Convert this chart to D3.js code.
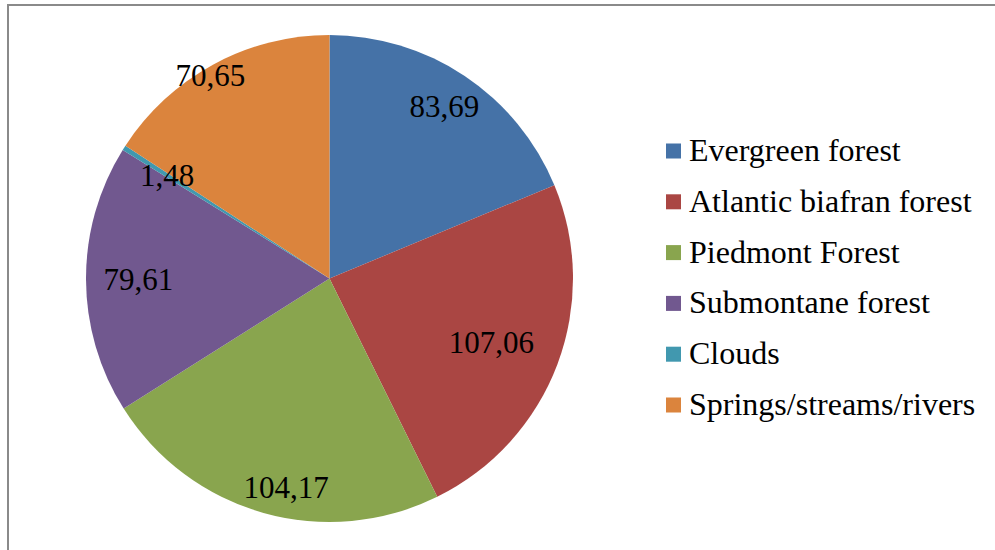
<!DOCTYPE html>
<html>
<head>
<meta charset="utf-8">
<script src="https://cdn.jsdelivr.net/npm/d3@7"></script>
<style>
  html, body { margin: 0; padding: 0; background: #fff; }
  svg { display: block; }
</style>
</head>
<body>
<svg id="chart" width="995" height="550"></svg>
<script>
// Land cover classes and their areas
const categories = ["Evergreen forest", "Atlantic biafran forest", "Piedmont Forest",
                    "Submontane forest", "Clouds", "Springs/streams/rivers"];
const values = [83.69, 107.06, 104.17, 79.61, 1.48, 70.65];
const valueLabels = ["83,69", "107,06", "104,17", "79,61", "1,48", "70,65"];
const colors = ["#4572A7", "#AA4643", "#89A54E", "#71588F", "#4198AF", "#DB843D"];

// Layout
const W = 995, H = 550;
const cx = 329.5, cy = 278.5, R = 243.5;
const FONT = "'Liberation Serif', 'Times New Roman', 'DejaVu Serif', serif";
// placement of each value label: fraction of the radius, and a small turn (degrees) off the mid-angle
const labelRadius = [0.85, 0.715, 0.875, 0.785, 0.79, 0.965];
const labelTurn = [0, 1, -4, 0, 0, -2];

const svg = d3.select("#chart");

// outer frame (runs off the right and bottom edges)
svg.append("rect")
  .attr("x", 8).attr("y", 5)
  .attr("width", 1100).attr("height", 700)
  .attr("fill", "none")
  .attr("stroke", "#8a8a8a")
  .attr("stroke-width", 2);

const data = categories.map((c, i) => ({
  name: c, value: values[i], label: valueLabels[i], color: colors[i],
  lr: labelRadius[i], lt: labelTurn[i] * Math.PI / 180
}));

const pie = d3.pie().value(d => d.value).sort(null);
const arcs = pie(data);
const arc = d3.arc().innerRadius(0).outerRadius(R);

const g = svg.append("g").attr("transform", `translate(${cx},${cy})`);

g.selectAll("path.slice")
  .data(arcs)
  .join("path")
  .attr("class", "slice")
  .attr("d", arc)
  .attr("fill", d => d.data.color);

// value labels
const labelAngle = d => (d.startAngle + d.endAngle) / 2 + d.data.lt;
g.selectAll("text.value")
  .data(arcs)
  .join("text")
  .attr("class", "value")
  .attr("x", d => Math.sin(labelAngle(d)) * R * d.data.lr)
  .attr("y", d => -Math.cos(labelAngle(d)) * R * d.data.lr)
  .attr("text-anchor", "middle")
  .attr("dominant-baseline", "central")
  .attr("font-family", FONT)
  .attr("font-size", 31)
  .attr("fill", "#000")
  .text(d => d.data.label);

// legend
const legendX = 666, legendY0 = 151, legendStep = 50.8;
const lg = svg.append("g");
const rows = lg.selectAll("g.row")
  .data(data)
  .join("g")
  .attr("class", "row")
  .attr("transform", (d, i) => `translate(${legendX},${legendY0 + i * legendStep})`);

rows.append("rect")
  .attr("x", 0).attr("y", -7.5)
  .attr("width", 15).attr("height", 15)
  .attr("fill", d => d.color);

rows.append("text")
  .attr("x", 23)
  .attr("y", 10)
  .attr("font-family", FONT)
  .attr("font-size", 32)
  .attr("fill", "#000")
  .text(d => d.name);
</script>
</body>
</html>
